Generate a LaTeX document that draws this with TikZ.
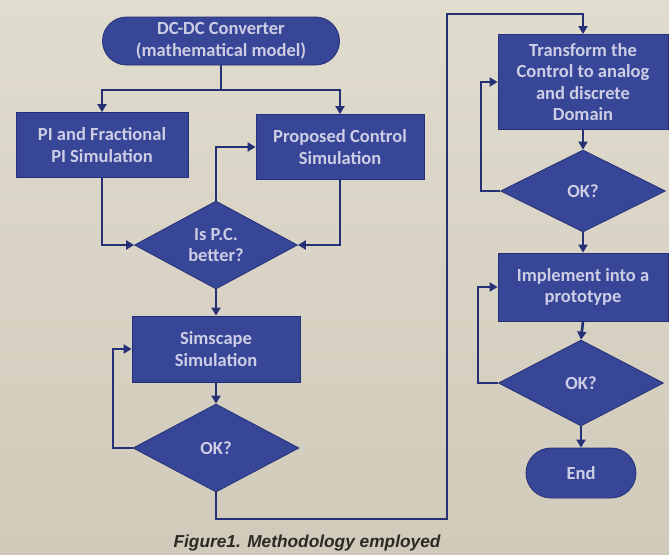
\documentclass[tikz,border=0pt]{standalone}
\usepackage{fontspec}
\setmainfont{Carlito}
\newfontfamily\capfont{Liberation Sans}
\usetikzlibrary{shapes.geometric,shapes.misc,arrows.meta}
\definecolor{bgtop}{RGB}{224,220,206}
\definecolor{bgbot}{RGB}{208,202,186}
\definecolor{boxblue}{RGB}{56,70,152}
\definecolor{edgeblue}{RGB}{38,48,118}
\definecolor{txt}{RGB}{205,205,228}
\definecolor{captxt}{RGB}{45,40,35}
\tikzset{
  base/.style={fill=boxblue, draw=edgeblue, line width=0.8pt, text=txt, align=center,
    font=\bfseries\fontsize{18.5}{21.5}\selectfont},
  procbox/.style={base, rectangle, inner sep=0pt},
  term/.style={base, rounded rectangle, inner sep=0pt},
  decision/.style={base, diamond, inner sep=0pt, aspect=2},
  conn/.style={draw=edgeblue, line width=2.6pt},
  arr/.style={conn, -{Triangle[length=8pt,width=9pt]}},
}
\begin{document}
\begin{tikzpicture}[x=1pt,y=-1pt]
\useasboundingbox (0,0) rectangle (669,554);
\shade[top color=bgtop, bottom color=bgbot] (0,0) rectangle (669,554);

% left column
\node[term, minimum width=237, minimum height=48] (dc) at (221,41) {DC-DC Converter\\(mathematical model)};
\node[procbox, minimum width=172, minimum height=65] (pi) at (102,145) {PI and Fractional\\PI Simulation};
\node[procbox, minimum width=168, minimum height=65] (prop) at (340,147) {Proposed Control\\Simulation};
\node[decision, minimum width=163, minimum height=88] (pc) at (216,245) {Is P.C.\\better?};
\node[procbox, minimum width=168, minimum height=66] (sim) at (216,349) {Simscape\\Simulation};
\node[decision, minimum width=166, minimum height=88] (ok1) at (216,448) {OK?};

% right column
\node[procbox, minimum width=170, minimum height=95] (tr) at (583,82) {Transform the\\Control to analog\\and discrete\\Domain};
\node[decision, minimum width=165, minimum height=82] (ok2) at (583,191) {OK?};
\node[procbox, minimum width=170, minimum height=68] (imp) at (583,287) {Implement into a\\prototype};
\node[decision, minimum width=165, minimum height=86] (ok3) at (581,383) {OK?};
\node[term, minimum width=110, minimum height=50] (end) at (581,473) {End};

% caption
\node[text=captxt, font=\capfont\bfseries\itshape\fontsize{17.3}{19}\selectfont] (cap) at (307,543) {Figure1. Methodology employed};

% coordinates
\coordinate (split) at (221,90);
\coordinate (l1) at (113,448);
\coordinate (b1) at (447,519);
\coordinate (b2) at (447,14);
\coordinate (l2) at (481,191);
\coordinate (l3) at (478,383);

% connectors
\draw[conn] (dc.south) -- (split);
\draw[arr] (split) -| (pi.north);
\draw[arr] (split) -| (prop.north);
\draw[arr] (pi.south) |- (pc.west);
\draw[arr] (prop.south) |- (pc.east);
\draw[arr] (pc.north) |- (prop.west);
\draw[arr] (pc.south) -- (sim.north);
\draw[arr] (sim.south) -- (ok1.north);
\draw[arr] (ok1.west) -- (l1) |- (sim.west);
\draw[arr] (ok1.south) |- (b1) -- (b2) -| (tr.north);
\draw[arr] (tr.south) -- (ok2.north);
\draw[arr] (ok2.west) -- (l2) |- (tr.west);
\draw[arr] (ok2.south) -- (imp.north);
\draw[arr] (imp.south) -- (ok3.north);
\draw[arr] (ok3.west) -- (l3) |- (imp.west);
\draw[arr] (ok3.south) -- (end.north);
\end{tikzpicture}
\end{document}
